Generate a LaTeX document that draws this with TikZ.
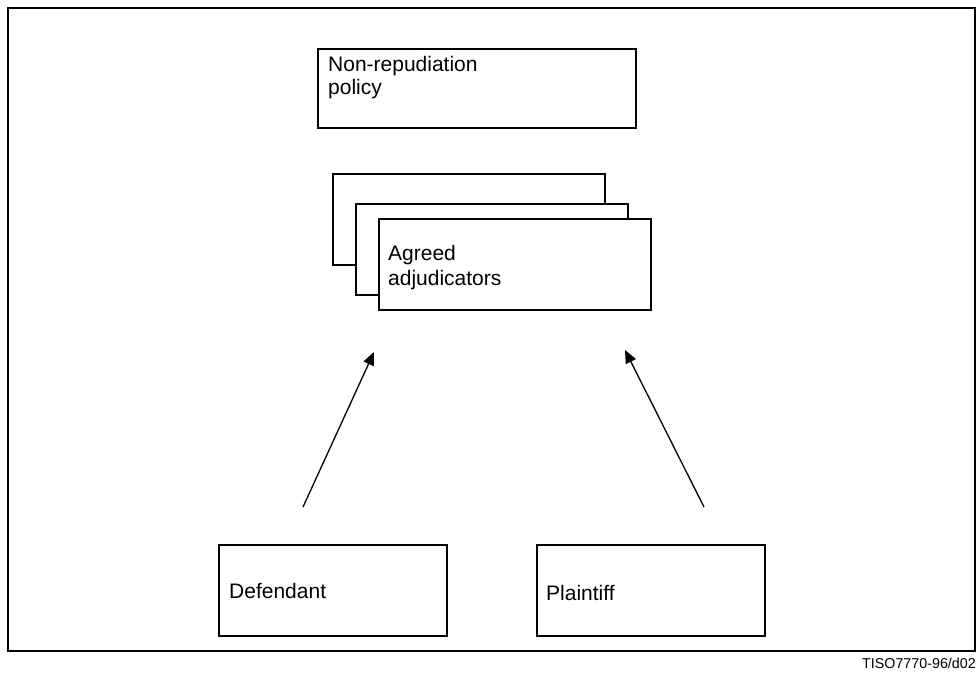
\documentclass[tikz,border=0pt]{standalone}
\usepackage{fontspec}
\setmainfont{Liberation Sans}
\usetikzlibrary{arrows.meta}
\begin{document}
\begin{tikzpicture}[x=1pt,y=-1pt,
  box/.style={draw=black,line width=1.3pt,fill=white,anchor=north west,inner sep=0pt,outer sep=0pt},
  txt/.style={anchor=base west,inner sep=0pt,font=\fontsize{21}{24}\selectfont},
  arr/.style={line width=1.3pt,-{Triangle[length=13pt,width=11pt]}}]
\useasboundingbox (0,0) rectangle (978,674);
% outer frame
\node[box,line width=1.5pt,minimum width=967pt,minimum height=643pt] (frame) at (8,8) {};
% policy
\node[box,minimum width=318pt,minimum height=79pt] (policy) at (318,49) {};
\node[txt] (policyA) at (328,72) {Non-repudiation};
\node[txt] (policyB) at (328,95) {policy};
% adjudicators stack
\node[box,minimum width=272pt,minimum height=91pt] (adjC) at (333,174) {};
\node[box,minimum width=272pt,minimum height=91pt] (adjB) at (356,204) {};
\node[box,minimum width=272pt,minimum height=91pt] (adjA) at (379,219) {};
\node[txt] (adjT1) at (388,260) {Agreed};
\node[txt] (adjT2) at (388,285) {adjudicators};
% parties
\node[box,minimum width=228pt,minimum height=91pt] (def) at (219,545) {};
\node[txt] (defT) at (229,598) {Defendant};
\node[box,minimum width=228pt,minimum height=91pt] (pla) at (537,545) {};
\node[txt] (plaT) at (546,600) {Plaintiff};
% arrows
\coordinate (a1s) at (303,507);
\coordinate (a1e) at (374,352);
\coordinate (a2s) at (704,507);
\coordinate (a2e) at (625,350);
\draw[arr] (a1s) -- (a1e);
\draw[arr] (a2s) -- (a2e);
% reference label
\node[anchor=base east,inner sep=0pt,font=\fontsize{14.3}{16}\selectfont] (ref) at (976,668) {TISO7770-96/d02};
\end{tikzpicture}
\end{document}
